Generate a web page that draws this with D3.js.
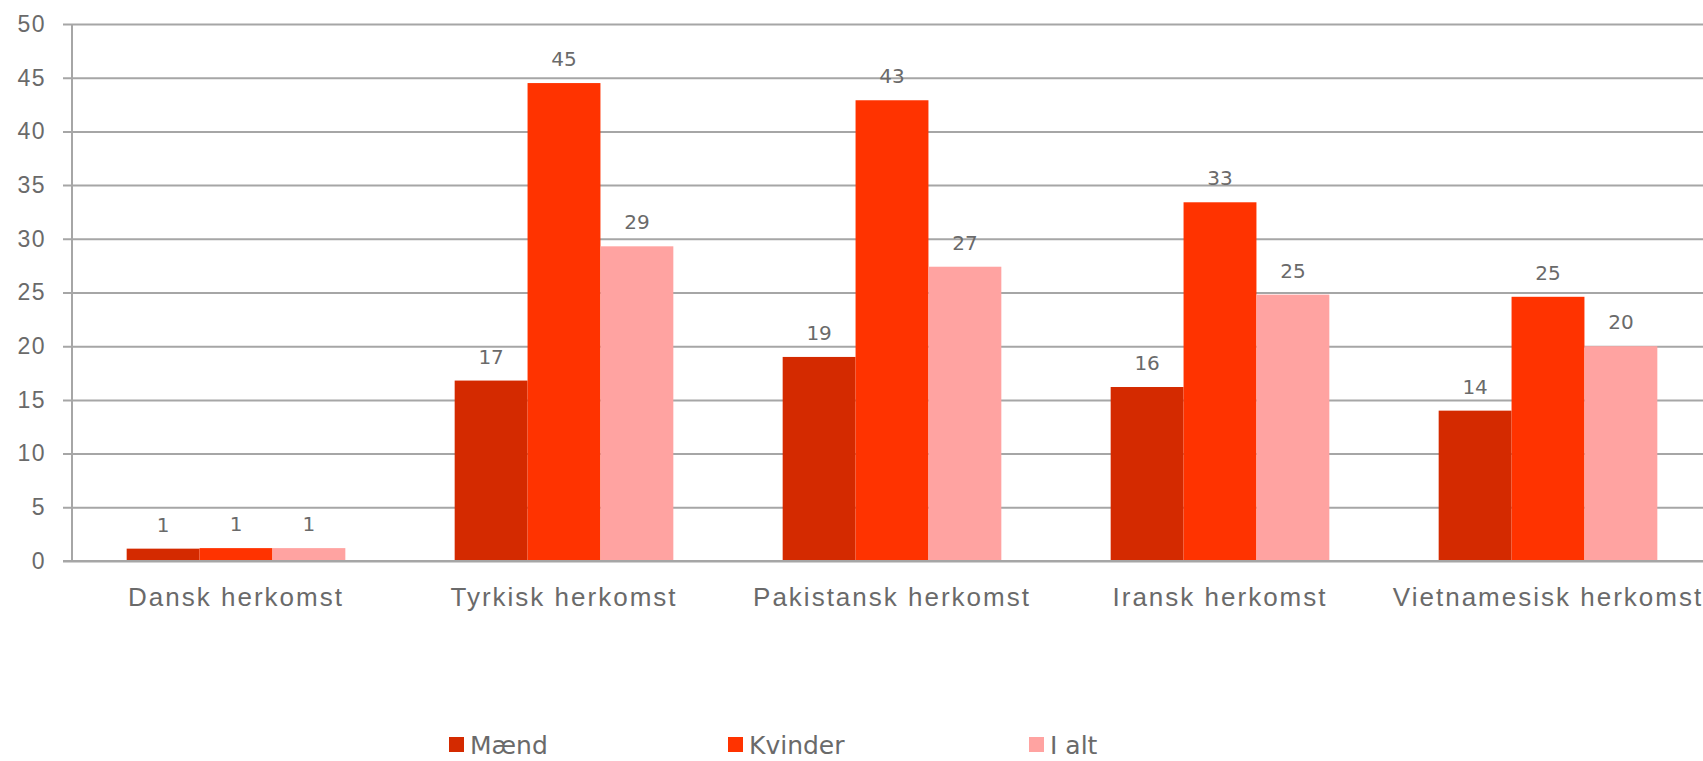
<!DOCTYPE html>
<html>
<head>
<meta charset="utf-8">
<script src="https://cdn.jsdelivr.net/npm/d3@7"></script>
<style>
  html, body { margin: 0; padding: 0; background: #fff; }
  svg { display: block; font-family: "DejaVu Sans", Verdana, sans-serif; }
</style>
</head>
<body>
<div id="plot"></div>
<script>
const categories = ['Dansk herkomst', 'Tyrkisk herkomst', 'Pakistansk herkomst', 'Iransk herkomst', 'Vietnamesisk herkomst'];
const series = ['Mænd', 'Kvinder', 'I alt'];
const maend = [1.15, 16.8, 19.0, 16.2, 14.0];
const kvinder = [1.2, 44.5, 42.9, 33.4, 24.6];
const iAlt = [1.2, 29.3, 27.4, 24.8, 20.0];
const yTicks = [0, 5, 10, 15, 20, 25, 30, 35, 40, 45, 50];

const values = [maend, kvinder, iAlt];
const colors = ['#d42a00', '#ff3300', '#ffa3a1'];
const textColor = '#6a6a6a';
const gridColor = '#a6a6a6';

const width = 1703;
const height = 761;

const svg = d3.select('#plot').append('svg')
  .attr('width', width)
  .attr('height', height);

const x0 = d3.scaleBand()
  .domain(categories)
  .range([72, 1712]);

const barW = x0.bandwidth() / 4.5;

const x1 = d3.scaleBand()
  .domain(series)
  .range([barW * 0.75, barW * 3.75]);

const y = d3.scaleLinear()
  .domain([0, 50])
  .range([561, 24]);

// gridlines + y axis
const yAxis = d3.axisLeft(y)
  .tickValues(yTicks)
  .tickSize(-(width - 72))
  .tickPadding(18)
  .tickFormat(d3.format('d'));

const gy = svg.append('g')
  .attr('transform', 'translate(72,0)')
  .call(yAxis);

gy.select('.domain').remove();
gy.selectAll('.tick line')
  .attr('x1', -9)
  .attr('stroke', gridColor)
  .attr('stroke-width', 2);
gy.selectAll('.tick text')
  .attr('fill', textColor)
  .attr('font-size', 23)
  .attr('letter-spacing', 1.5)
  .attr('x', -26);

svg.append('line')
  .attr('x1', 72).attr('x2', 72)
  .attr('y1', y(50)).attr('y2', y(0))
  .attr('stroke', gridColor)
  .attr('stroke-width', 2);

const rows = categories.map((c, i) => ({
  category: c,
  bars: series.map((s, j) => ({ series: s, value: values[j][i], color: colors[j] }))
}));

const groups = svg.selectAll('g.group')
  .data(rows)
  .enter()
  .append('g')
  .attr('class', 'group')
  .attr('transform', d => `translate(${x0(d.category)},0)`);

groups.selectAll('rect')
  .data(d => d.bars)
  .enter()
  .append('rect')
  .attr('x', d => x1(d.series))
  .attr('y', d => y(d.value))
  .attr('width', x1.bandwidth())
  .attr('height', d => y(0) - y(d.value))
  .attr('fill', d => d.color);

groups.selectAll('text.label')
  .data(d => d.bars)
  .enter()
  .append('text')
  .attr('class', 'label')
  .attr('x', d => x1(d.series) + x1.bandwidth() / 2)
  .attr('y', d => y(d.value) - 17)
  .attr('text-anchor', 'middle')
  .attr('font-size', 20)
  .attr('fill', textColor)
  .text(d => Math.round(d.value));

// baseline over bars
svg.append('line')
  .attr('x1', 63).attr('x2', width)
  .attr('y1', y(0)).attr('y2', y(0))
  .attr('stroke', gridColor)
  .attr('stroke-width', 2);

// category labels
const xAxis = d3.axisBottom(x0).tickSize(0).tickPadding(0);
const gx = svg.append('g')
  .attr('transform', `translate(0,${y(0)})`)
  .call(xAxis);
gx.select('.domain').remove();
gx.selectAll('.tick text')
  .attr('fill', textColor)
  .attr('font-size', 26)
  .attr('letter-spacing', 2)
  .attr('y', 45)
  .attr('dy', 0);

// legend
const legendX = [449, 728, 1029];
const legend = svg.selectAll('g.legend')
  .data(series)
  .enter()
  .append('g')
  .attr('class', 'legend')
  .attr('transform', (d, i) => `translate(${legendX[i]},737)`);

legend.append('rect')
  .attr('width', 15)
  .attr('height', 15)
  .attr('fill', (d, i) => colors[i]);

legend.append('text')
  .attr('x', 21)
  .attr('y', 17)
  .attr('font-size', 25)
  .attr('fill', textColor)
  .text(d => d);
</script>
</body>
</html>
